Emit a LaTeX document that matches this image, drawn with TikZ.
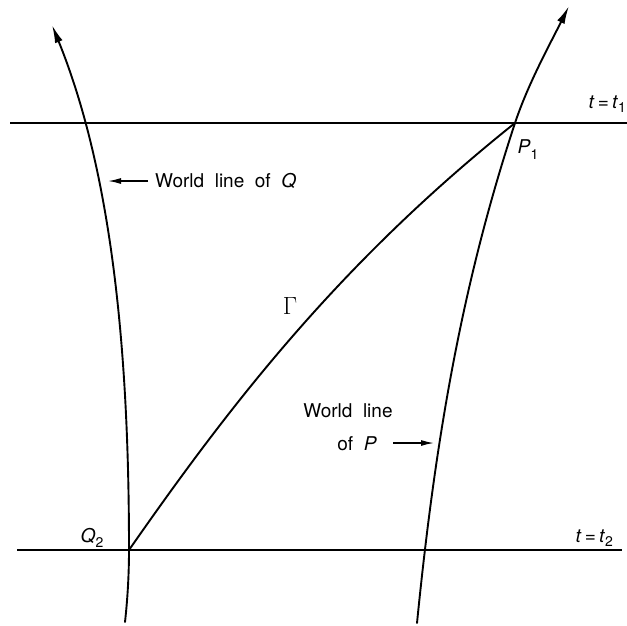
\documentclass[tikz,border=0pt]{standalone}
\usepackage{fontspec}
\newfontfamily\hv{TeX Gyre Heros}
\usetikzlibrary{arrows.meta}
\tikzset{
  wl/.style={line width=1.9pt, line cap=round},
  axis/.style={line width=1.7pt},
  bigtip/.style={-{Latex[length=18pt,width=8pt]}},
  smalltip/.style={-{Latex[length=13pt,width=6pt]}, line width=1.4pt},
  lbl/.style={font=\hv\fontsize{19}{22}\selectfont, inner sep=0pt},
}
\begin{document}
\begin{tikzpicture}[x=1pt,y=-1pt]
\useasboundingbox[fill=white] (0,0) rectangle (627,625);
% named points
\coordinate (P1) at (515,123);
\coordinate (Q2) at (129,550);
\coordinate (L1a) at (10,123);
\coordinate (L1b) at (627,123);
\coordinate (L2a) at (17,550);
\coordinate (L2b) at (622,550);
% time lines
\draw[axis] (L1a) -- (L1b);
\draw[axis] (L2a) -- (L2b);
% world line of Q
\coordinate (Qbot) at (125,622);
\coordinate (Qtop) at (52,25);
\draw[wl,bigtip] (Qbot) .. controls (128,595) and (129,570) .. (Q2)
  .. controls (129,380) and (117,185) .. (Qtop);
% world line of P
\coordinate (Pbot) at (417,623);
\coordinate (Ptop) at (569,6);
\draw[wl,bigtip] (Pbot) .. controls (434,453) and (459,293) .. (P1)
  .. controls (528,84) and (549.5,45) .. (Ptop);
% Gamma
\draw[wl] (Q2) .. controls (228,408) and (337,265) .. (P1);
% labels
\node[lbl, anchor=east] (tt1) at (626,104) {\textit{t}\,=\,\textit{t}\raisebox{-0.35ex}{\fontsize{14}{16}\selectfont 1}};
\node[lbl, anchor=east] (tt2) at (613,538) {\textit{t}\,=\,\textit{t}\raisebox{-0.35ex}{\fontsize{14}{16}\selectfont 2}};
\node[lbl] (p1) at (528,150) {\textit{P}\raisebox{-0.6ex}{\fontsize{14}{16}\selectfont 1}};
\node[lbl] (q2) at (92,538) {\textit{Q}\raisebox{-0.45ex}{\fontsize{14}{16}\selectfont 2}};
\node[font=\fontsize{24}{26}\selectfont, inner sep=0pt] (gam) at (290,306) {$\Gamma$};
\node[lbl, anchor=west] (wq) at (155,181) {World\ \ line\ \ of\ \ \textit{Q}};
\coordinate (wqa) at (148,181);
\coordinate (wqb) at (108,181);
\draw[smalltip] (wqa) -- (wqb);
\node[lbl] (wp1) at (348,411) {World\ \ line};
\node[lbl, anchor=east] (wp2) at (377,444) {of\ \ \textit{P}};
\coordinate (wpa) at (393,443);
\coordinate (wpb) at (434,443);
\draw[smalltip] (wpa) -- (wpb);
\end{tikzpicture}
\end{document}
